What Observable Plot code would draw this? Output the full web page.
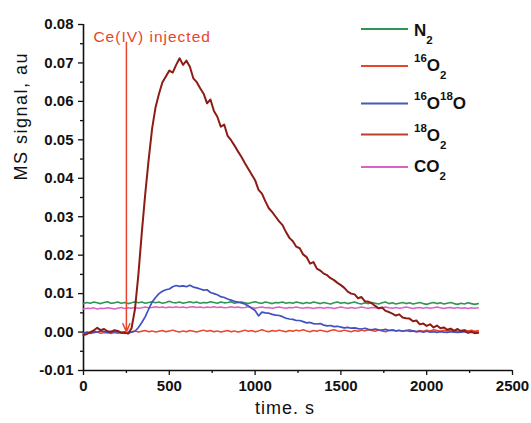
<!DOCTYPE html>
<html>
<head>
<meta charset="utf-8">
<script src="https://cdn.jsdelivr.net/npm/d3@7"></script>
<script src="https://cdn.jsdelivr.net/npm/@observablehq/plot@0.6"></script>
<style>
  html, body { margin: 0; padding: 0; background: #fff; }
  #chart { position: relative; width: 531px; height: 423px; }
</style>
</head>
<body>
<div id="chart"></div>
<script>
// ---- Data ----
const time = [
  0,20,40,60,80,100,120,140,160,180,
  200,220,240,260,280,300,320,340,360,380,
  400,420,440,460,480,500,520,540,560,580,
  600,620,640,660,680,700,720,740,760,780,
  800,820,840,860,880,900,920,940,960,980,
  1000,1020,1040,1060,1080,1100,1120,1140,1160,1180,
  1200,1220,1240,1260,1280,1300,1320,1340,1360,1380,
  1400,1420,1440,1460,1480,1500,1520,1540,1560,1580,
  1600,1620,1640,1660,1680,1700,1720,1740,1760,1780,
  1800,1820,1840,1860,1880,1900,1920,1940,1960,1980,
  2000,2020,2040,2060,2080,2100,2120,2140,2160,2180,
  2200,2220,2240,2260,2280,2300
];

const n2 = [
  0.0074,0.0077,0.0075,0.0078,0.0076,0.0074,0.0077,0.0079,0.0075,0.0076,
  0.0078,0.0075,0.0077,0.0074,0.0076,0.0079,0.0076,0.0078,0.0075,0.0077,
  0.0079,0.0076,0.0078,0.0075,0.0077,0.0080,0.0077,0.0076,0.0078,0.0075,
  0.0077,0.0079,0.0076,0.0078,0.0075,0.0077,0.0076,0.0079,0.0077,0.0075,
  0.0078,0.0076,0.0077,0.0079,0.0075,0.0077,0.0078,0.0076,0.0074,0.0077,
  0.0079,0.0076,0.0075,0.0078,0.0076,0.0074,0.0077,0.0076,0.0078,0.0075,
  0.0077,0.0075,0.0078,0.0076,0.0074,0.0077,0.0075,0.0078,0.0076,0.0074,
  0.0077,0.0075,0.0073,0.0076,0.0078,0.0075,0.0077,0.0074,0.0076,0.0078,
  0.0075,0.0073,0.0076,0.0074,0.0077,0.0075,0.0073,0.0076,0.0078,0.0074,
  0.0076,0.0073,0.0075,0.0077,0.0074,0.0076,0.0073,0.0075,0.0077,0.0074,
  0.0072,0.0075,0.0077,0.0074,0.0076,0.0073,0.0075,0.0077,0.0074,0.0072,
  0.0075,0.0073,0.0076,0.0074,0.0072,0.0074
];

const o16 = [
  -0.0003,-0.0001,-0.0004,-0.0002,0.0000,-0.0003,-0.0001,-0.0002,-0.0004,-0.0001,
  -0.0003,-0.0002,-0.0004,-0.0002,0.0001,0.0003,0.0000,0.0002,0.0004,0.0001,
  0.0003,0.0000,0.0002,0.0004,0.0001,0.0003,0.0005,0.0002,0.0000,0.0003,
  0.0001,0.0004,0.0002,0.0000,0.0003,0.0005,0.0002,0.0004,0.0001,0.0003,
  0.0000,0.0002,0.0004,0.0001,0.0003,0.0000,0.0002,0.0005,0.0002,0.0004,
  0.0001,0.0003,0.0006,0.0003,0.0001,0.0004,0.0002,0.0005,0.0003,0.0001,
  0.0004,0.0002,0.0005,0.0003,0.0006,0.0003,0.0001,0.0004,0.0002,0.0005,
  0.0003,0.0001,0.0004,0.0006,0.0003,0.0002,0.0005,0.0003,0.0001,0.0004,
  0.0002,0.0005,0.0003,0.0006,0.0004,0.0002,0.0005,0.0003,0.0001,0.0004,
  0.0006,0.0003,0.0005,0.0002,0.0004,0.0006,0.0003,0.0001,0.0004,0.0002,
  0.0005,0.0003,0.0006,0.0004,0.0002,0.0005,0.0003,0.0006,0.0004,0.0002,
  0.0004,0.0006,0.0003,0.0005,0.0002,0.0004
];

const o1618 = [
  -0.0003,0.0000,-0.0002,0.0001,0.0000,0.0003,0.0001,-0.0001,0.0002,0.0000,
  0.0001,-0.0001,0.0000,-0.0002,0.0000,0.0002,0.0012,0.0025,0.0040,0.0060,
  0.0078,0.0090,0.0100,0.0106,0.0110,0.0112,0.0118,0.0121,0.0119,0.0120,
  0.0118,0.0122,0.0117,0.0115,0.0112,0.0109,0.0110,0.0103,0.0100,0.0097,
  0.0092,0.0090,0.0086,0.0083,0.0080,0.0078,0.0076,0.0073,0.0068,0.0062,
  0.0056,0.0042,0.0052,0.0050,0.0049,0.0046,0.0044,0.0043,0.0040,0.0036,
  0.0034,0.0033,0.0030,0.0030,0.0027,0.0024,0.0025,0.0022,0.0021,0.0022,
  0.0018,0.0016,0.0017,0.0014,0.0015,0.0013,0.0011,0.0012,0.0010,0.0011,
  0.0009,0.0008,0.0010,0.0007,0.0006,0.0008,0.0006,0.0005,0.0007,0.0004,
  0.0005,0.0003,0.0004,0.0002,0.0004,0.0002,0.0003,0.0001,0.0002,0.0000,
  0.0002,0.0000,0.0001,-0.0001,0.0001,0.0000,-0.0001,0.0001,0.0000,-0.0001,
  0.0000,0.0001,-0.0001,0.0000,-0.0001,0.0000
];

const o18 = [
  -0.0008,-0.0005,0.0000,0.0004,0.0011,0.0005,0.0008,0.0002,0.0000,0.0005,
  0.0003,-0.0002,-0.0001,-0.0004,0.0010,0.0060,0.0150,0.0260,0.0360,0.0450,
  0.0530,0.0585,0.0620,0.0650,0.0665,0.0680,0.0675,0.0695,0.0712,0.0695,
  0.0706,0.0690,0.0660,0.0650,0.0634,0.0620,0.0595,0.0605,0.0575,0.0560,
  0.0534,0.0540,0.0510,0.0499,0.0485,0.0470,0.0456,0.0440,0.0425,0.0410,
  0.0395,0.0370,0.0360,0.0340,0.0322,0.0312,0.0300,0.0288,0.0278,0.0260,
  0.0245,0.0236,0.0222,0.0218,0.0202,0.0195,0.0178,0.0182,0.0165,0.0160,
  0.0152,0.0148,0.0140,0.0135,0.0128,0.0122,0.0115,0.0105,0.0100,0.0098,
  0.0088,0.0091,0.0080,0.0079,0.0075,0.0068,0.0062,0.0064,0.0055,0.0052,
  0.0048,0.0043,0.0046,0.0038,0.0036,0.0035,0.0028,0.0030,0.0020,0.0022,
  0.0016,0.0020,0.0012,0.0017,0.0010,0.0012,0.0006,0.0009,0.0003,0.0008,
  0.0002,0.0004,-0.0002,0.0001,-0.0003,-0.0002
];

const co2 = [
  0.0060,0.0062,0.0061,0.0063,0.0060,0.0062,0.0061,0.0063,0.0062,0.0060,
  0.0062,0.0064,0.0061,0.0063,0.0062,0.0064,0.0062,0.0063,0.0065,0.0063,
  0.0064,0.0066,0.0064,0.0065,0.0063,0.0065,0.0064,0.0066,0.0064,0.0065,
  0.0063,0.0065,0.0066,0.0064,0.0065,0.0063,0.0065,0.0064,0.0066,0.0064,
  0.0065,0.0063,0.0064,0.0066,0.0064,0.0065,0.0063,0.0064,0.0066,0.0064,
  0.0062,0.0064,0.0065,0.0063,0.0064,0.0062,0.0064,0.0065,0.0063,0.0062,
  0.0064,0.0063,0.0065,0.0063,0.0062,0.0064,0.0063,0.0061,0.0063,0.0064,
  0.0062,0.0064,0.0063,0.0061,0.0063,0.0065,0.0063,0.0062,0.0064,0.0062,
  0.0063,0.0065,0.0063,0.0062,0.0064,0.0063,0.0061,0.0063,0.0065,0.0063,
  0.0062,0.0064,0.0062,0.0063,0.0065,0.0063,0.0061,0.0063,0.0064,0.0062,
  0.0064,0.0062,0.0063,0.0065,0.0063,0.0061,0.0063,0.0064,0.0062,0.0064,
  0.0062,0.0063,0.0061,0.0063,0.0062,0.0063
];

const xTicks = [0, 500, 1000, 1500, 2000, 2500];
const xMinorTicks = [250, 750, 1250, 1750, 2250];
const yTicks = [-0.01, 0.00, 0.01, 0.02, 0.03, 0.04, 0.05, 0.06, 0.07, 0.08];
const yMinorTicks = [-0.005, 0.005, 0.015, 0.025, 0.035, 0.045, 0.055, 0.065, 0.075];
const xDomain = [0, 2500];
const yDomain = [-0.01, 0.08];

const injectionTime = [250];
const injectionLabel = "Ce(IV) injected";
const xLabel = "time. s";
const yLabel = "MS signal, au";

// series: names, values, plot colour, legend colour, width, legend label tokens
const seriesNames = ["N2", "16O2", "16O18O", "18O2", "CO2"];
const seriesValues = [n2, o16, o1618, o18, co2];
const lineColors = ["#2f9553", "#e8452c", "#3f50c4", "#8c1c14", "#d862c6"];
const legendColors = ["#2f9553", "#e8452c", "#4a58b8", "#b8432c", "#d862c6"];
const lineWidths = [1.6, 1.5, 1.7, 2.0, 1.5];
const legendLabels = [
  [["n", "N"], ["sub", "2"]],
  [["sup", "16"], ["n", "O"], ["sub", "2"]],
  [["sup", "16"], ["n", "O"], ["sup", "18"], ["n", "O"]],
  [["sup", "18"], ["n", "O"], ["sub", "2"]],
  [["n", "CO"], ["sub", "2"]]
];
const drawOrder = [0, 4, 1, 2, 3];

// ---- build tidy table ----
const rows = seriesNames.map((name, s) =>
  time.map((t, i) => ({ time: t, value: seriesValues[s][i], series: name }))
);

const font = "'Liberation Sans', Arial, Helvetica, sans-serif";
const red = "#e8452c";

const chart = Plot.plot({
  width: 531,
  height: 423,
  marginLeft: 83,
  marginRight: 19,
  marginTop: 24,
  marginBottom: 53,
  style: { fontFamily: font, background: "#fff", color: "#111", overflow: "visible" },
  x: { domain: xDomain, label: null },
  y: { domain: yDomain, label: null },
  marks: [
    // minor ticks
    Plot.axisY(yMinorTicks, { tickSize: 3, text: null, label: null, strokeWidth: 1.3 }),
    Plot.axisX(xMinorTicks, { tickSize: 3, text: null, label: null, strokeWidth: 1.3 }),
    // major ticks + labels
    Plot.axisY(yTicks, {
      tickSize: 5, tickPadding: 5, label: null, strokeWidth: 1.3,
      tickFormat: d => d.toFixed(2), fontSize: 15, fontWeight: "bold"
    }),
    Plot.axisX(xTicks, {
      tickSize: 5, tickPadding: 5, label: null, strokeWidth: 1.3,
      tickFormat: d => String(d), fontSize: 15, fontWeight: "bold"
    }),
    // axis lines
    Plot.ruleX([xDomain[0]], { stroke: "#111", strokeWidth: 1.6 }),
    Plot.ruleY([yDomain[0]], { stroke: "#111", strokeWidth: 1.6 }),
    // data lines
    ...drawOrder.map(s => Plot.line(rows[s], {
      x: "time", y: "value", stroke: lineColors[s], strokeWidth: lineWidths[s],
      strokeLinejoin: "round"
    })),
    // injection annotation
    Plot.arrow(injectionTime, {
      x1: d => d, x2: d => d, y1: 0.0754, y2: 0.0,
      stroke: red, strokeWidth: 1.5, headLength: 9, headAngle: 45
    }),
    Plot.text(injectionTime, {
      x: d => d, frameAnchor: "top", text: () => injectionLabel,
      textAnchor: "start", dx: -33, dy: 6, fill: red, fontSize: 15.5
    }),
    // axis titles
    Plot.text([yLabel], {
      frameAnchor: "left", text: d => d, rotate: -90, dx: -62, dy: -17,
      fontSize: 18, fill: "#111"
    }),
    Plot.text([xLabel], {
      frameAnchor: "bottom", text: d => d, dx: -13, dy: 43,
      fontSize: 18, fill: "#111"
    })
  ]
});

document.getElementById("chart").appendChild(chart);

const svg = d3.select(chart);
// letter spacing to match the wider lettering of the reference
const spacing = new Map([[injectionLabel, 1], [yLabel, 1.5], [xLabel, 1]]);
svg.selectAll("text").each(function () {
  const ls = spacing.get(this.textContent);
  if (ls != null) d3.select(this).attr("letter-spacing", ls);
});

// ---- legend (inside the plot, top right) ----
const legend = svg.append("g")
  .attr("font-family", font)
  .attr("font-weight", "bold")
  .attr("text-anchor", "start");
const legendLineX = [361, 408];
const legendTextX = 414;
const legendBaselines = [35.5, 71, 109, 141, 172];
const legendLineY = [29, 66, 103.5, 134.5, 167];
const shift = { n: 0, sup: -9.5, sub: 8 };
const sizes = { n: 17, sup: 11.5, sub: 11.5 };

seriesNames.forEach((name, s) => {
  legend.append("line")
    .attr("x1", legendLineX[0]).attr("x2", legendLineX[1])
    .attr("y1", legendLineY[s]).attr("y2", legendLineY[s])
    .attr("stroke", legendColors[s]).attr("stroke-width", 2);
  const text = legend.append("text")
    .attr("x", legendTextX).attr("y", legendBaselines[s])
    .attr("fill", "#111");
  let cur = 0;
  legendLabels[s].forEach(([kind, str]) => {
    const target = shift[kind];
    text.append("tspan")
      .attr("dy", target - cur)
      .attr("font-size", sizes[kind])
      .text(str);
    cur = target;
  });
});
</script>
</body>
</html>
